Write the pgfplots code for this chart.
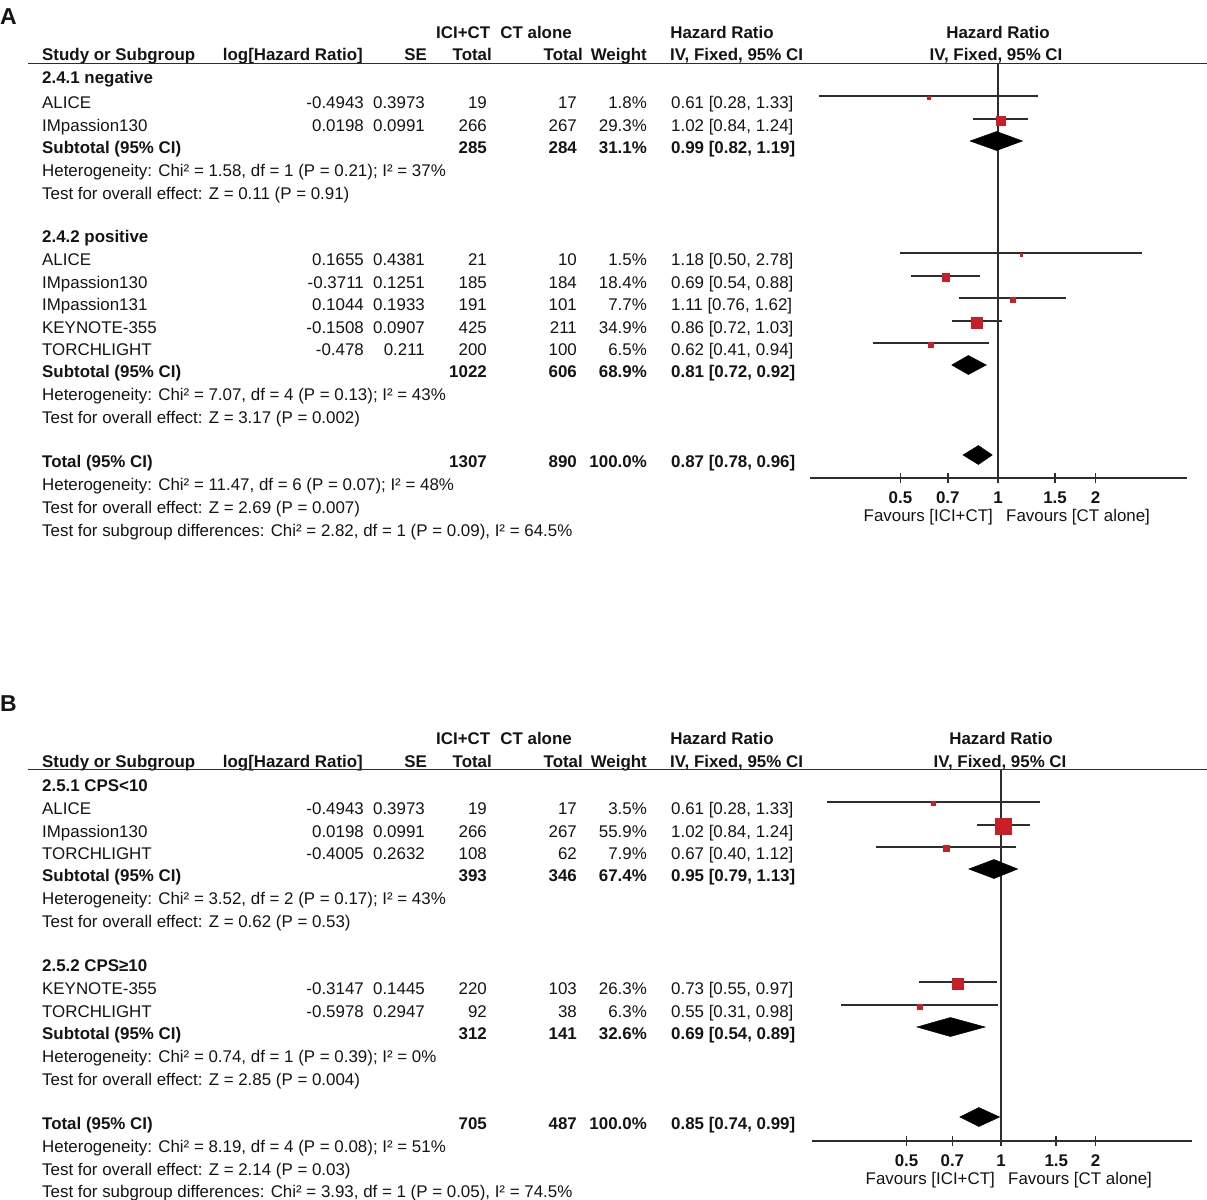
\documentclass[border=0pt]{standalone}
\usepackage{fontspec}
\setmainfont{Liberation Sans}
\usepackage{pgfplots}
\pgfplotsset{compat=1.18}
\definecolor{sqred}{RGB}{200,30,40}
\definecolor{txt}{RGB}{20,20,20}
\definecolor{lnc}{RGB}{45,45,45}
\newcommand\fs{\fontsize{16.9}{20}\selectfont}
\tikzset{tx/.style={inner sep=0pt,font=\fs,text=txt},
 ci/.style={lnc, line width=1.8pt},
 dia/.style={fill=black, draw=black, line width=0.5pt},
 refl/.style={lnc, line width=1.8pt}}
\newcommand\TL[3]{\node[tx,anchor=base west] at (#1pt,-#2pt) {#3};}
\newcommand\TR[3]{\node[tx,anchor=base east] at (#1pt,-#2pt) {#3};}
\newcommand\TC[3]{\node[tx,anchor=base] at (#1pt,-#2pt) {#3};}
% study row: baseline, name, logHR, SE, n1, n2, weight, HR
\newcommand\Study[8]{\TL{42}{#1}{#2}\TR{364}{#1}{#3}\TR{425}{#1}{#4}\TR{487}{#1}{#5}\TR{577}{#1}{#6}\TR{647}{#1}{#7}\TL{671}{#1}{#8}}
% subtotal row: baseline, label, n1, n2, weight, HR
\newcommand\Sub[6]{\TL{42}{#1}{\bfseries #2}\TR{487}{#1}{\bfseries #3}\TR{577}{#1}{\bfseries #4}\TR{647}{#1}{\bfseries #5}\TL{671}{#1}{\bfseries #6}}
\newcommand\Header[2]{%
 \TL{436}{#1}{\bfseries ICI+CT}\TR{572}{#1}{\bfseries CT alone}\TC{722}{#1}{\bfseries Hazard Ratio}\TC{#2}{#1}{\bfseries Hazard Ratio}}
\newcommand\HeaderB[2]{%
 \TL{42}{#1}{\bfseries Study or Subgroup}\TR{363}{#1}{\bfseries log[Hazard Ratio]}\TR{427}{#1}{\bfseries SE}\TR{492}{#1}{\bfseries Total}\TR{583}{#1}{\bfseries Total}\TR{647}{#1}{\bfseries Weight}\TL{670}{#1}{\bfseries IV, Fixed, 95\% CI}\TC{#2}{#1}{\bfseries IV, Fixed, 95\% CI}}
\begin{document}
\begin{tikzpicture}
\useasboundingbox (0pt,0pt) rectangle (1207pt,-1199pt);
%================ Panel A ================
\node[inner sep=0pt, anchor=base west, font=\fontsize{23}{25}\selectfont\bfseries, text=txt] at (0pt,-25pt) {A};
\Header{39}{998}
\HeaderB{61}{996}
\draw[lnc, line width=1.8pt] (28pt,-63.5pt) -- (1207pt,-63.5pt);
\TL{42}{84}{\bfseries 2.4.1 negative}
\Study{108}{ALICE}{-0.4943}{0.3973}{19}{17}{1.8\%}{0.61 [0.28, 1.33]}
\Study{131}{IMpassion130}{0.0198}{0.0991}{266}{267}{29.3\%}{1.02 [0.84, 1.24]}
\Sub{153}{Subtotal (95\% CI)}{285}{284}{31.1\%}{0.99 [0.82, 1.19]}
\TL{42}{176}{Heterogeneity: Chi² = 1.58, df = 1 (P = 0.21); I² = 37\%}
\TL{42}{199}{Test for overall effect: Z = 0.11 (P = 0.91)}
\TL{42}{242}{\bfseries 2.4.2 positive}
\Study{265}{ALICE}{0.1655}{0.4381}{21}{10}{1.5\%}{1.18 [0.50, 2.78]}
\Study{288}{IMpassion130}{-0.3711}{0.1251}{185}{184}{18.4\%}{0.69 [0.54, 0.88]}
\Study{310}{IMpassion131}{0.1044}{0.1933}{191}{101}{7.7\%}{1.11 [0.76, 1.62]}
\Study{333}{KEYNOTE-355}{-0.1508}{0.0907}{425}{211}{34.9\%}{0.86 [0.72, 1.03]}
\Study{355}{TORCHLIGHT}{-0.478}{0.211}{200}{100}{6.5\%}{0.62 [0.41, 0.94]}
\Sub{377}{Subtotal (95\% CI)}{1022}{606}{68.9\%}{0.81 [0.72, 0.92]}
\TL{42}{400}{Heterogeneity: Chi² = 7.07, df = 4 (P = 0.13); I² = 43\%}
\TL{42}{423}{Test for overall effect: Z = 3.17 (P = 0.002)}
\Sub{467}{Total (95\% CI)}{1307}{890}{100.0\%}{0.87 [0.78, 0.96]}
\TL{42}{490}{Heterogeneity: Chi² = 11.47, df = 6 (P = 0.07); I² = 48\%}
\TL{42}{513}{Test for overall effect: Z = 2.69 (P = 0.007)}
\TL{42}{536}{Test for subgroup differences: Chi² = 2.82, df = 1 (P = 0.09), I² = 64.5\%}
\TR{993}{521}{Favours [ICI+CT]}
\TL{1006}{521}{Favours [CT alone]}

\begin{axis}[at={(810pt,-478pt)}, anchor=south west,
  width=377pt, height=414.5pt, xmin=0.263, xmax=3.83, ymin=-478, ymax=-63.5,
  scale only axis, xmode=log, clip=false,
  separate axis lines,
  every outer x axis line/.append style={lnc, line width=1.8pt},
  every outer y axis line/.append style={draw=none},
  ytick=\empty, xtick pos=bottom,
  xtick={0.5,0.7,1,1.5,2}, xticklabels={0.5,0.7,1,1.5,2},
  minor xtick={},
  xtick align=center, major tick length=10pt,
  xtick style={lnc, line width=1.6pt},
  xticklabel style={font=\fs\bfseries, text=txt, inner sep=0pt, anchor=base, yshift=-20pt}]
\addplot[refl] coordinates {(1,-478) (1,-63.5)};
% 2.4.1
\addplot[ci] coordinates {(0.28,-96) (1.33,-96)};
\addplot[only marks, color=sqred, mark=square*, mark options={draw=none, fill=sqred}, mark size=1.3pt] coordinates {(0.61,-97.5)};
\addplot[ci] coordinates {(0.84,-119) (1.24,-119)};
\addplot[only marks, color=sqred, mark=square*, mark options={draw=none, fill=sqred}, mark size=4.8pt] coordinates {(1.02,-120.5)};
\addplot[dia] coordinates {(0.82,-141) (0.99,-131.5) (1.19,-141) (0.99,-150.5)} --cycle;
% 2.4.2
\addplot[ci] coordinates {(0.50,-253) (2.78,-253)};
\addplot[only marks, color=sqred, mark=square*, mark options={draw=none, fill=sqred}, mark size=1.2pt] coordinates {(1.18,-254.5)};
\addplot[ci] coordinates {(0.54,-276) (0.88,-276)};
\addplot[only marks, color=sqred, mark=square*, mark options={draw=none, fill=sqred}, mark size=3.9pt] coordinates {(0.69,-277.5)};
\addplot[ci] coordinates {(0.76,-298) (1.62,-298)};
\addplot[only marks, color=sqred, mark=square*, mark options={draw=none, fill=sqred}, mark size=2.5pt] coordinates {(1.11,-299.5)};
\addplot[ci] coordinates {(0.72,-321) (1.03,-321)};
\addplot[only marks, color=sqred, mark=square*, mark options={draw=none, fill=sqred}, mark size=5.5pt] coordinates {(0.86,-322.5)};
\addplot[ci] coordinates {(0.41,-343) (0.94,-343)};
\addplot[only marks, color=sqred, mark=square*, mark options={draw=none, fill=sqred}, mark size=2.3pt] coordinates {(0.62,-344.5)};
\addplot[dia] coordinates {(0.72,-365) (0.81,-355.5) (0.92,-365) (0.81,-374.5)} --cycle;
% total
\addplot[dia] coordinates {(0.78,-455) (0.87,-445.5) (0.96,-455) (0.87,-464.5)} --cycle;
\end{axis}

%================ Panel B ================
\node[inner sep=0pt, anchor=base west, font=\fontsize{23}{25}\selectfont\bfseries, text=txt] at (0pt,-711pt) {B};
\Header{744}{1001}
\HeaderB{767}{1000}
\draw[lnc, line width=1.8pt] (28pt,-769.5pt) -- (1207pt,-769.5pt);
\TL{42}{791}{\bfseries 2.5.1 CPS<10}
\Study{814}{ALICE}{-0.4943}{0.3973}{19}{17}{3.5\%}{0.61 [0.28, 1.33]}
\Study{837}{IMpassion130}{0.0198}{0.0991}{266}{267}{55.9\%}{1.02 [0.84, 1.24]}
\Study{859}{TORCHLIGHT}{-0.4005}{0.2632}{108}{62}{7.9\%}{0.67 [0.40, 1.12]}
\Sub{881}{Subtotal (95\% CI)}{393}{346}{67.4\%}{0.95 [0.79, 1.13]}
\TL{42}{904}{Heterogeneity: Chi² = 3.52, df = 2 (P = 0.17); I² = 43\%}
\TL{42}{927}{Test for overall effect: Z = 0.62 (P = 0.53)}
\TL{42}{971}{\bfseries 2.5.2 CPS≥10}
\Study{994}{KEYNOTE-355}{-0.3147}{0.1445}{220}{103}{26.3\%}{0.73 [0.55, 0.97]}
\Study{1017}{TORCHLIGHT}{-0.5978}{0.2947}{92}{38}{6.3\%}{0.55 [0.31, 0.98]}
\Sub{1039}{Subtotal (95\% CI)}{312}{141}{32.6\%}{0.69 [0.54, 0.89]}
\TL{42}{1062}{Heterogeneity: Chi² = 0.74, df = 1 (P = 0.39); I² = 0\%}
\TL{42}{1085}{Test for overall effect: Z = 2.85 (P = 0.004)}
\Sub{1129}{Total (95\% CI)}{705}{487}{100.0\%}{0.85 [0.74, 0.99]}
\TL{42}{1152}{Heterogeneity: Chi² = 8.19, df = 4 (P = 0.08); I² = 51\%}
\TL{42}{1175}{Test for overall effect: Z = 2.14 (P = 0.03)}
\TL{42}{1197}{Test for subgroup differences: Chi² = 3.93, df = 1 (P = 0.05), I² = 74.5\%}
\TR{995}{1184}{Favours [ICI+CT]}
\TL{1008}{1184}{Favours [CT alone]}

\begin{axis}[at={(812pt,-1141pt)}, anchor=south west,
  width=380pt, height=371.5pt, xmin=0.250, xmax=4.06, ymin=-1141, ymax=-769.5,
  scale only axis, xmode=log, clip=false,
  separate axis lines,
  every outer x axis line/.append style={lnc, line width=1.8pt},
  every outer y axis line/.append style={draw=none},
  ytick=\empty, xtick pos=bottom,
  xtick={0.5,0.7,1,1.5,2}, xticklabels={0.5,0.7,1,1.5,2},
  minor xtick={},
  xtick align=center, major tick length=10pt,
  xtick style={lnc, line width=1.6pt},
  xticklabel style={font=\fs\bfseries, text=txt, inner sep=0pt, anchor=base, yshift=-20pt}]
\addplot[refl] coordinates {(1,-1141) (1,-769.5)};
% 2.5.1
\addplot[ci] coordinates {(0.28,-802) (1.33,-802)};
\addplot[only marks, color=sqred, mark=square*, mark options={draw=none, fill=sqred}, mark size=2.0pt] coordinates {(0.61,-803.5)};
\addplot[ci] coordinates {(0.84,-825) (1.24,-825)};
\addplot[only marks, color=sqred, mark=square*, mark options={draw=none, fill=sqred}, mark size=8.0pt] coordinates {(1.02,-826.5)};
\addplot[ci] coordinates {(0.40,-847) (1.12,-847)};
\addplot[only marks, color=sqred, mark=square*, mark options={draw=none, fill=sqred}, mark size=3.0pt] coordinates {(0.67,-848.5)};
\addplot[dia] coordinates {(0.79,-869) (0.95,-859.5) (1.13,-869) (0.95,-878.5)} --cycle;
% 2.5.2
\addplot[ci] coordinates {(0.55,-982) (0.97,-982)};
\addplot[only marks, color=sqred, mark=square*, mark options={draw=none, fill=sqred}, mark size=5.5pt] coordinates {(0.73,-983.5)};
\addplot[ci] coordinates {(0.31,-1005) (0.98,-1005)};
\addplot[only marks, color=sqred, mark=square*, mark options={draw=none, fill=sqred}, mark size=2.7pt] coordinates {(0.55,-1006.5)};
\addplot[dia] coordinates {(0.54,-1027) (0.69,-1017.5) (0.89,-1027) (0.69,-1036.5)} --cycle;
% total
\addplot[dia] coordinates {(0.74,-1117) (0.85,-1107.5) (0.99,-1117) (0.85,-1126.5)} --cycle;
\end{axis}
\end{tikzpicture}
\end{document}
